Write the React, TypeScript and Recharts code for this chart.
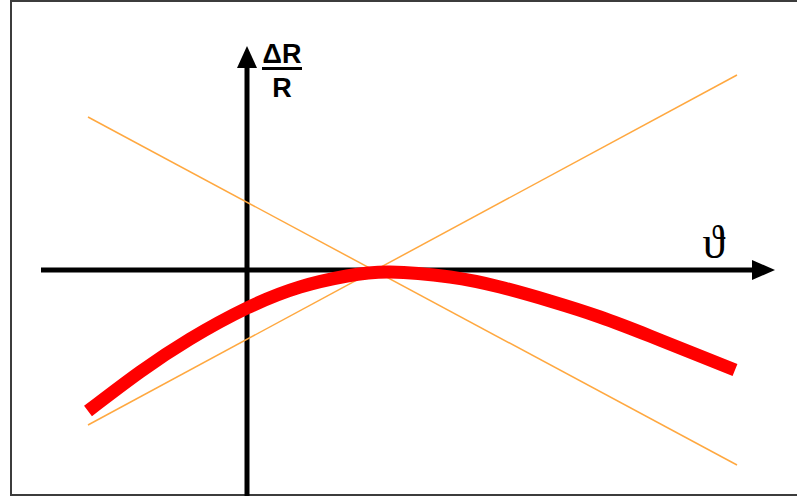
import {
  ComposedChart,
  Line,
  XAxis,
  YAxis,
  ReferenceLine,
  ReferenceDot,
} from "recharts";

// theta on x, ΔR/R on y; origin where the two axes cross
const redCurve = [
  { x: -1.59, y: -1.41 },
  { x: -1.07, y: -1.02 },
  { x: -0.57, y: -0.69 },
  { x: 0, y: -0.38 },
  { x: 0.53, y: -0.17 },
  { x: 1.0, y: -0.06 },
  { x: 1.43, y: -0.02 },
  { x: 2.03, y: -0.07 },
  { x: 2.53, y: -0.17 },
  { x: 3.03, y: -0.31 },
  { x: 3.53, y: -0.47 },
  { x: 4.03, y: -0.66 },
  { x: 4.53, y: -0.86 },
  { x: 4.88, y: -1.0 },
];

const tangentDown = [
  { x: -1.59, y: 1.53 },
  { x: 4.9, y: -1.95 },
];

const tangentUp = [
  { x: -1.59, y: -1.55 },
  { x: 4.9, y: 1.95 },
];

const xDomain = [-2.47, 5.5];
const yDomain = [-2.26, 2.7];

const yLabel = "ΔR";
const yLabelDen = "R";
const xLabel = "ϑ";

const ArrowRight = (p: any) => (
  <polygon
    points={`${p.cx},${p.cy} ${p.cx - 23},${p.cy - 10} ${p.cx - 23},${p.cy + 10}`}
    fill="#000"
  />
);

const ArrowUp = (p: any) => (
  <polygon
    points={`${p.cx},${p.cy} ${p.cx - 10},${p.cy + 22} ${p.cx + 10},${p.cy + 22}`}
    fill="#000"
  />
);

const FracLabel = (p: any) => (
  <g fontFamily="'Liberation Sans', Arial, sans-serif" fontWeight="bold" fontSize={27} fill="#000">
    <text x={p.cx} y={p.cy - 7} textAnchor="middle">{yLabel}</text>
    <rect x={p.cx - 20} y={p.cy - 3} width={40} height={3} fill="#000" />
    <text x={p.cx} y={p.cy + 27} textAnchor="middle">{yLabelDen}</text>
  </g>
);

const ThetaLabel = (p: any) => (
  <text
    x={p.cx}
    y={p.cy}
    textAnchor="middle"
    fontFamily="'Liberation Serif', 'DejaVu Serif', serif"
    fontSize={46}
    fill="#000"
  >
    {xLabel}
  </text>
);

export default function App() {
  return (
    <div style={{ position: "absolute", left: 0, top: 0, width: 797, height: 496, background: "#fff" }}>
      <div
        style={{
          position: "absolute",
          left: 10,
          top: 0,
          width: 800,
          height: 496,
          boxSizing: "border-box",
          borderLeft: "2px solid #3c3c3c",
          borderTop: "2px solid #3c3c3c",
          borderBottom: "2px solid #3c3c3c",
        }}
      />
      <div style={{ position: "absolute", left: 0, top: 0 }}>
        <ComposedChart width={797} height={496} margin={{ top: 0, right: 0, bottom: 0, left: 0 }}>
          <XAxis type="number" dataKey="x" domain={xDomain} allowDataOverflow hide />
          <YAxis type="number" dataKey="y" domain={yDomain} allowDataOverflow hide />

          <ReferenceLine
            segment={[{ x: -2.06, y: 0 }, { x: 5.06, y: 0 }]}
            stroke="#000"
            strokeWidth={5}
            ifOverflow="visible"
          />
          <ReferenceLine
            segment={[{ x: 0, y: 2.04 }, { x: 0, y: -2.3 }]}
            stroke="#000"
            strokeWidth={5}
            ifOverflow="visible"
          />

          <Line
            data={tangentDown}
            dataKey="y"
            type="linear"
            stroke="#FFA840"
            strokeWidth={1.5}
            dot={false}
            activeDot={false}
            isAnimationActive={false}
          />
          <Line
            data={tangentUp}
            dataKey="y"
            type="linear"
            stroke="#FFA840"
            strokeWidth={1.5}
            dot={false}
            activeDot={false}
            isAnimationActive={false}
          />
          <Line
            data={redCurve}
            dataKey="y"
            type="natural"
            stroke="#FF0000"
            strokeWidth={13}
            dot={false}
            activeDot={false}
            isAnimationActive={false}
          />

          <ReferenceDot x={5.28} y={0} r={0} shape={ArrowRight} ifOverflow="visible" />
          <ReferenceDot x={0} y={2.24} r={0} shape={ArrowUp} ifOverflow="visible" />
          <ReferenceDot x={0.35} y={2.0} r={0} shape={FracLabel} ifOverflow="visible" />
          <ReferenceDot x={4.67} y={0.12} r={0} shape={ThetaLabel} ifOverflow="visible" />
        </ComposedChart>
      </div>
    </div>
  );
}
